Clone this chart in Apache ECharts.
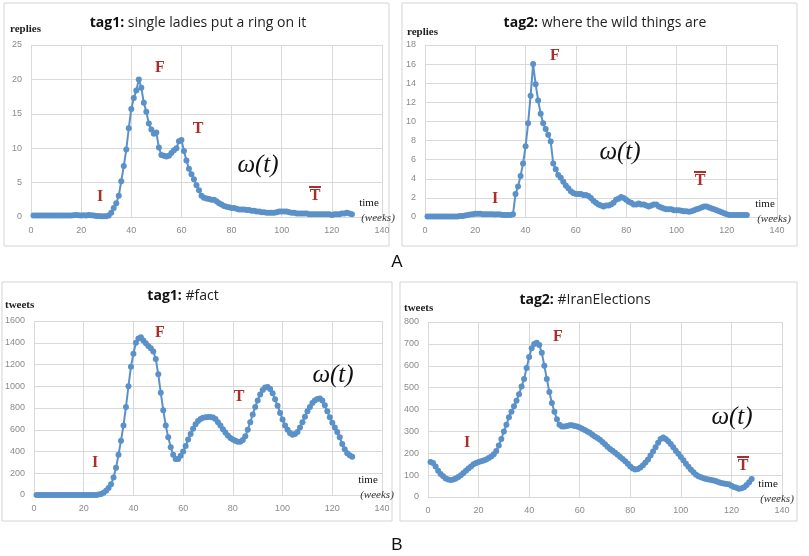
<!DOCTYPE html>
<html>
<head>
<meta charset="UTF-8">
<title>tag-activity-curves</title>
<script src="https://cdn.jsdelivr.net/npm/echarts@6/dist/echarts.min.js"></script>
<style>
html, body { margin: 0; padding: 0; background: #fff; }
#main { width: 809px; height: 556px; }
</style>
</head>
<body>
<div id="main"></div>
<script>
// weekly values, week 1 .. 128
var repliesTag1 = [
  0.2, 0.2, 0.2, 0.2, 0.2, 0.2, 0.2, 0.2, 0.2, 0.2,
  0.2, 0.2, 0.2, 0.2, 0.2, 0.2, 0.25, 0.3, 0.25, 0.2,
  0.25, 0.2, 0.3, 0.25, 0.2, 0.15, 0.15, 0.1, 0.1, 0.1,
  0.2, 0.6, 1.3, 2.0, 3.1, 5.2, 7.4, 9.8, 12.9, 15.7,
  17.3, 18.4, 20, 18.8, 16.6, 15.3, 13.6, 12.7, 12.1, 12.3,
  10.1, 9.0, 8.9, 8.8, 8.9, 9.3, 9.7, 10.0, 11.0, 11.2,
  9.6, 8.2, 7.0, 6.2, 5.5, 4.6, 3.9, 3.1, 2.8, 2.7,
  2.6, 2.5, 2.5, 2.3, 2.0, 1.8, 1.6, 1.5, 1.4, 1.3,
  1.3, 1.2, 1.1, 1.1, 1.1, 1.0, 1.0, 0.9, 0.9, 0.8,
  0.8, 0.7, 0.7, 0.6, 0.6, 0.6, 0.6, 0.7, 0.8, 0.8,
  0.8, 0.8, 0.7, 0.6, 0.6, 0.5, 0.5, 0.5, 0.5, 0.5,
  0.4, 0.4, 0.4, 0.4, 0.4, 0.4, 0.4, 0.4, 0.4, 0.3,
  0.4, 0.4, 0.4, 0.5, 0.5, 0.6, 0.5, 0.4
];
var repliesTag2 = [
  0.05, 0.05, 0.05, 0.05, 0.05, 0.05, 0.05, 0.05, 0.05, 0.05,
  0.05, 0.05, 0.05, 0.1, 0.1, 0.15, 0.2, 0.25, 0.3, 0.35,
  0.35, 0.35, 0.3, 0.3, 0.3, 0.3, 0.3, 0.25, 0.3, 0.25,
  0.2, 0.2, 0.2, 0.2, 0.3, 2.4, 3.2, 4.3, 5.6, 7.4,
  9.8, 12.7, 16, 13.9, 12.2, 10.8, 9.8, 9.2, 8.6, 7.9,
  5.6, 5.0, 4.4, 4.1, 3.7, 3.3, 3.0, 2.7, 2.5, 2.4,
  2.4, 2.4, 2.3, 2.3, 2.2, 2.0, 1.7, 1.5, 1.3, 1.2,
  1.1, 1.2, 1.2, 1.3, 1.5, 1.8, 1.9, 2.1, 2.0, 1.8,
  1.6, 1.5, 1.3, 1.3, 1.4, 1.3, 1.3, 1.2, 1.1, 1.2,
  1.3, 1.3, 1.1, 1.0, 0.9, 0.8, 0.8, 0.8, 0.7, 0.7,
  0.7, 0.65, 0.6, 0.6, 0.55, 0.6, 0.7, 0.8, 0.9, 1.0,
  1.1, 1.1, 1.0, 0.9, 0.8, 0.7, 0.6, 0.5, 0.4, 0.3,
  0.2, 0.2, 0.2, 0.2, 0.2, 0.2, 0.2, 0.2
];
var tweetsTag1 = [
  0, 0, 0, 0, 0, 0, 0, 0, 0, 0,
  0, 0, 0, 0, 0, 0, 0, 0, 0, 0,
  0, 0, 0, 0, 0, 5, 10, 20, 40, 65,
  100, 160, 250, 370, 500, 640, 810, 1000, 1180, 1300,
  1400, 1440, 1450, 1420, 1395, 1370, 1350, 1320, 1250, 1110,
  940, 780, 640, 530, 440, 370, 330, 330, 360, 400,
  450, 510, 560, 610, 650, 680, 700, 710, 715, 718,
  718, 712, 698, 670, 640, 605, 575, 548, 525, 510,
  498, 490, 490, 505, 540, 600, 670, 740, 810, 870,
  925, 965, 988, 993, 975, 935, 880, 820, 755, 695,
  640, 600, 570, 555, 560, 580, 620, 670, 720, 770,
  810, 845, 870, 883, 888, 870, 825, 770, 715, 665,
  620, 580, 530, 470, 420, 385, 365, 352
];
var tweetsTag2 = [
  160, 155, 140, 120, 105, 95, 85, 80, 78, 80,
  85, 92, 100, 110, 120, 130, 140, 150, 155, 160,
  163, 167, 172, 178, 185, 195, 210, 235, 265, 300,
  330, 365, 390, 415, 440, 470, 505, 540, 590, 640,
  680, 700, 705, 695, 660, 600, 540, 480, 430, 390,
  355, 330, 322, 322, 325, 328, 328, 325, 322, 318,
  312, 306, 300, 294, 285, 277, 270, 262, 252, 241,
  230, 220, 212, 202, 193, 183, 174, 164, 152, 140,
  130, 126, 128, 135, 145, 158, 172, 190, 208, 228,
  248, 265, 272, 265, 255, 242, 228, 212, 198, 183,
  168, 152, 138, 125, 113, 102, 95, 90, 86, 82,
  80, 78, 75, 72, 68, 64, 62, 60, 58, 52,
  46, 42, 38, 40, 45, 55, 68, 82
];
var xTicks = { min: 0, max: 140, interval: 20 };

var panels = [
  { title: 'single ladies put a ring on it', tag: 'tag1:', unit: 'replies', data: repliesTag1, yMax: 25, yInt: 5,
    grid: { left: 31, top: 45, width: 351, height: 172 }, titleX: 198, titleY: 23, unitX: 10, unitY: 29 },
  { title: 'where the wild things are', tag: 'tag2:', unit: 'replies', data: repliesTag2, yMax: 18, yInt: 2,
    grid: { left: 425, top: 45, width: 352, height: 172 }, titleX: 605, titleY: 23, unitX: 407, unitY: 32 },
  { title: '#fact', tag: 'tag1:', unit: 'tweets', data: tweetsTag1, yMax: 1600, yInt: 200,
    grid: { left: 34, top: 321, width: 348, height: 174 }, titleX: 183, titleY: 296, unitX: 5, unitY: 305 },
  { title: '#IranElections', tag: 'tag2:', unit: 'tweets', data: tweetsTag2, yMax: 800, yInt: 100,
    grid: { left: 428, top: 322, width: 354, height: 175 }, titleX: 585, titleY: 300, unitX: 404, unitY: 308 }
];

var RED = '#a8302c';
var BLUE = '#5b91c9';

function txt(s, x, y, font, fill, align) {
  return { type: 'text', x: x, y: y, z: 100, silent: true,
    style: { text: s, font: font, fill: fill || '#000', textAlign: align || 'center', textVerticalAlign: 'middle' } };
}
function letter(s, x, y) {
  return txt(s, x, y, 'bold 16px "Liberation Serif"', RED);
}
function tbar(x, y) {
  return { type: 'group', z: 100, silent: true, children: [
    letter('T', x, y),
    { type: 'rect', z: 100, shape: { x: x - 6, y: y - 10, width: 12, height: 2 }, style: { fill: RED } }
  ] };
}
function omega(x, y) {
  return txt('\u03c9(t)', x, y, 'italic 25px "Liberation Serif"', '#111');
}
function timeLabel(x, y) {
  return [
    txt('time', x, y, '11px "Liberation Serif"', '#111'),
    txt('(weeks)', x + 9, y + 15, 'italic 11px "Liberation Serif"', '#333')
  ];
}

var graphic = [
  // panel frames
  { type: 'rect', shape: { x: 4, y: 3, width: 385, height: 243 }, style: { fill: 'none', stroke: '#d4d4d4', lineWidth: 1 } },
  { type: 'rect', shape: { x: 402, y: 3, width: 395, height: 243 }, style: { fill: 'none', stroke: '#d4d4d4', lineWidth: 1 } },
  { type: 'rect', shape: { x: 2, y: 282, width: 390, height: 239 }, style: { fill: 'none', stroke: '#d4d4d4', lineWidth: 1 } },
  { type: 'rect', shape: { x: 400, y: 282, width: 397, height: 239 }, style: { fill: 'none', stroke: '#d4d4d4', lineWidth: 1 } },
  txt('A', 397, 262, '17px "Liberation Sans"', '#111'),
  txt('B', 397, 545, '17px "Liberation Sans"', '#111'),
  // A1
  letter('I', 100, 197), letter('F', 160, 68), letter('T', 198, 129), omega(258, 165), tbar(315, 196),
  // A2
  letter('I', 495, 199), letter('F', 555, 56), omega(620, 152), tbar(700, 181),
  // B1
  letter('I', 95, 463), letter('F', 160, 333), letter('T', 239, 397), omega(333, 375),
  // B2
  letter('I', 467, 443), letter('F', 558, 337), omega(732, 417), tbar(743, 466)
];
graphic = graphic.concat(timeLabel(369, 203), timeLabel(765, 204), timeLabel(368, 480), timeLabel(768, 484));

var grids = [], xAxes = [], yAxes = [], series = [];
panels.forEach(function (p, i) {
  grids.push(p.grid);
  xAxes.push({
    type: 'value', gridIndex: i, min: xTicks.min, max: xTicks.max, interval: xTicks.interval,
    axisLine: { show: false }, axisTick: { show: false },
    axisLabel: { color: '#8a8a8a', fontSize: 9, fontFamily: 'Liberation Sans', margin: 9 },
    splitLine: { lineStyle: { color: '#d9d9d9', width: 1 } }
  });
  yAxes.push({
    type: 'value', gridIndex: i, min: 0, max: p.yMax, interval: p.yInt,
    axisLine: { show: false }, axisTick: { show: false },
    axisLabel: { color: '#8a8a8a', fontSize: 9, fontFamily: 'Liberation Sans', margin: 9,
      formatter: function (v) { return String(v); } },
    splitLine: { lineStyle: { color: '#d9d9d9', width: 1 } }
  });
  series.push({
    type: 'line', xAxisIndex: i, yAxisIndex: i, z: 3,
    data: p.data.map(function (v, k) { return [k + 1, v]; }),
    symbol: 'circle', symbolSize: 6, showSymbol: true,
    lineStyle: { color: BLUE, width: 2 },
    itemStyle: { color: BLUE },
    animation: false, silent: true
  });
  graphic.push({
    type: 'text', x: p.titleX, y: p.titleY, z: 100, silent: true,
    style: {
      text: '{b|' + p.tag + '} ' + p.title,
      rich: { b: { fontWeight: 'bold', fontSize: 14, fontFamily: 'Open Sans', fill: '#111' } },
      fontSize: 14, fontFamily: 'Open Sans', fill: '#222',
      textAlign: 'center', textVerticalAlign: 'middle'
    }
  });
  graphic.push(txt(p.unit, p.unitX, p.unitY, 'bold 11px "Liberation Serif"', '#222', 'left'));
});

var chart = echarts.init(document.getElementById('main'));
chart.setOption({
  backgroundColor: '#fff',
  animation: false,
  grid: grids,
  xAxis: xAxes,
  yAxis: yAxes,
  series: series,
  graphic: graphic
});
</script>
</body>
</html>
